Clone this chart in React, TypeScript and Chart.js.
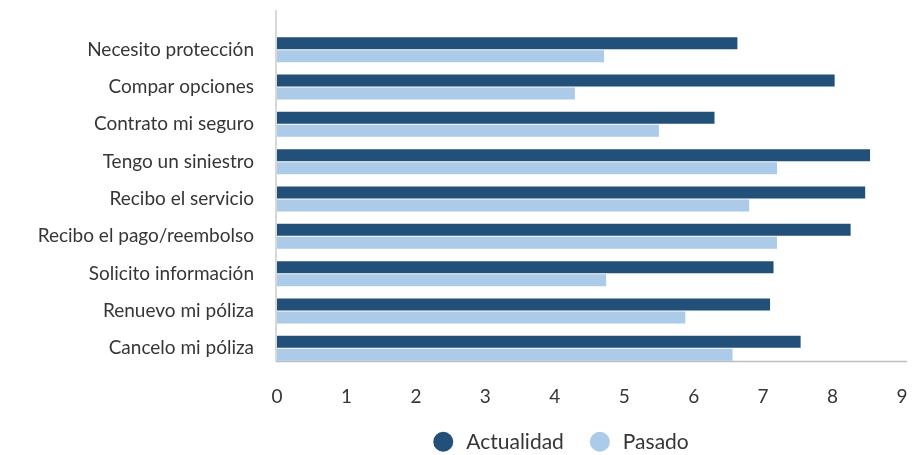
import { useEffect, useRef } from "react";
import { Chart, registerables } from "chart.js";

Chart.register(...registerables);

// Touchpoints of the customer journey
const categories = [
  "Necesito protección",
  "Compar opciones",
  "Contrato mi seguro",
  "Tengo un siniestro",
  "Recibo el servicio",
  "Recibo el pago/reembolso",
  "Solicito información",
  "Renuevo mi póliza",
  "Cancelo mi póliza",
];

const actualidad = [6.63, 8.03, 6.3, 8.54, 8.47, 8.26, 7.15, 7.1, 7.54];
const pasado = [4.71, 4.29, 5.5, 7.2, 6.8, 7.2, 4.74, 5.88, 6.56];

const seriesNames = ["Actualidad", "Pasado"];
const seriesColors = ["#225079", "#ABCBE9"];

const xMin = 0;
const xMax = 9;
const xStep = 1;

const FONT = "Lato, 'Noto Sans', sans-serif";
const TEXT = "#363636";

// Thin gray axis lines: the vertical one rises above the first bar,
// the horizontal one sits under the last bar.
const axisLines = {
  id: "axisLines",
  beforeDatasetsDraw(chart: any) {
    const { ctx, chartArea } = chart;
    const x0 = chart.scales.x.getPixelForValue(xMin) - 1;
    const yBase = chartArea.bottom - 5.5;
    ctx.save();
    ctx.lineWidth = 1.6;
    ctx.strokeStyle = "#CFCFCF";
    ctx.beginPath();
    ctx.moveTo(x0, chartArea.top - 21);
    ctx.lineTo(x0, yBase);
    ctx.stroke();
    ctx.strokeStyle = "#BDBDBD";
    ctx.beginPath();
    ctx.moveTo(x0, yBase);
    ctx.lineTo(chartArea.right + 5, yBase);
    ctx.stroke();
    ctx.restore();
  },
};

// Round-marker legend under the axis
const dotLegend = {
  id: "dotLegend",
  afterDraw(chart: any) {
    const { ctx } = chart;
    const r = 10;
    const gapText = 13;
    const gapItem = 26;
    const cy = chart.height - 13.3;
    const centerX = 561;
    ctx.save();
    ctx.font = `21px ${FONT}`;
    const items = chart.data.datasets.map((d: any) => ({
      label: d.label as string,
      color: d.backgroundColor as string,
      w: ctx.measureText(d.label).width,
    }));
    const total =
      items.reduce((s: number, it: any) => s + 2 * r + gapText + it.w, 0) +
      gapItem * (items.length - 1);
    let x = centerX - total / 2;
    ctx.textBaseline = "middle";
    ctx.textAlign = "left";
    for (const it of items) {
      ctx.fillStyle = it.color;
      ctx.beginPath();
      ctx.arc(x + r, cy, r, 0, Math.PI * 2);
      ctx.fill();
      ctx.fillStyle = TEXT;
      ctx.fillText(it.label, x + 2 * r + gapText, cy + 1);
      x += 2 * r + gapText + it.w + gapItem;
    }
    ctx.restore();
  },
};

export default function App() {
  const canvasRef = useRef<HTMLCanvasElement | null>(null);

  useEffect(() => {
    const canvas = canvasRef.current;
    if (!canvas) return;
    const chart = new Chart(canvas, {
      type: "bar",
      data: {
        labels: categories,
        datasets: [
          {
            label: seriesNames[0],
            data: actualidad,
            backgroundColor: seriesColors[0],
            borderWidth: 0,
            categoryPercentage: 0.697,
            barPercentage: 0.923,
          },
          {
            label: seriesNames[1],
            data: pasado,
            backgroundColor: seriesColors[1],
            borderWidth: 0,
            categoryPercentage: 0.697,
            barPercentage: 0.923,
          },
        ],
      },
      options: {
        indexAxis: "y",
        responsive: false,
        animation: false,
        devicePixelRatio: 1,
        layout: { padding: { top: 31, right: 20, left: 0, bottom: 0 } },
        plugins: {
          legend: { display: false },
          tooltip: { enabled: false },
        },
        scales: {
          x: {
            min: xMin,
            max: xMax,
            grid: { display: false, drawTicks: false },
            border: { display: false },
            ticks: {
              stepSize: xStep,
              padding: 18,
              color: TEXT,
              font: { family: FONT, size: 19 },
            },
            afterFit(scale: any) {
              scale.height = 88;
              scale.paddingLeft = 0;
              scale.paddingRight = 0;
            },
          },
          y: {
            grid: { display: false, drawTicks: false },
            border: { display: false },
            ticks: {
              padding: 23,
              color: TEXT,
              font: { family: FONT, size: 19 },
            },
            afterFit(scale: any) {
              scale.width = 277;
              scale.paddingTop = 0;
              scale.paddingBottom = 0;
            },
          },
        },
      },
      plugins: [axisLines, dotLegend],
    });
    return () => chart.destroy();
  }, []);

  return (
    <div
      style={{
        position: "fixed",
        left: 0,
        top: 0,
        width: 922,
        height: 455,
        overflow: "hidden",
        background: "#ffffff",
      }}
    >
      <canvas ref={canvasRef} width={922} height={455} />
    </div>
  );
}
